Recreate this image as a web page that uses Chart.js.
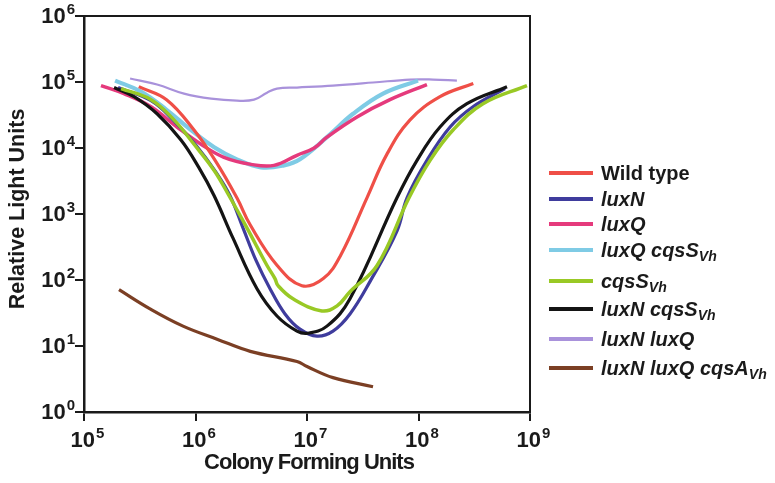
<!DOCTYPE html>
<html>
<head>
<meta charset="utf-8">
<script src="https://cdn.jsdelivr.net/npm/chart.js@4/dist/chart.umd.min.js"></script>
<style>
  html, body { margin: 0; padding: 0; background: #fff; }
  #wrap { position: relative; width: 775px; height: 483px; }
  #legend { position: absolute; left: 0; top: 0; font-family: "Liberation Sans", Arial, sans-serif; font-weight: bold; font-size: 20px; color: #1a1a1a; }
  .row { position: absolute; left: 549px; height: 24px; white-space: nowrap; }
  .row .swatch { position: absolute; left: 0; top: 10px; width: 44px; height: 3.5px; }
  .row .txt { position: absolute; left: 52px; top: 0; line-height: 24px; }
  .row i sub { font-size: 14px; vertical-align: -4px; line-height: 0; }
</style>
</head>
<body>
<div id="wrap">
  <canvas id="chart" width="775" height="483"></canvas>
  <div id="legend"></div>
</div>
<script>
// valores (UFC x unidades de luz)
var cfuWild = [3.1e5, 5.5e5, 9.7e5, 1.5e6, 2.35e6, 3.1e6, 5.4e6, 9.0e6, 1.4e7, 2.0e7, 3.45e7, 5.2e7, 8.4e7, 1.56e8, 3.1e8];
var rluWild = [8.5e4, 5.4e4, 1.87e4, 6.5e3, 1.76e3, 680, 166, 82, 105, 236, 1.76e3, 8.0e3, 2.67e4, 6.0e4, 9.5e4];

var cfuLuxN = [2.02e5, 3.99e5, 6.41e5, 1.01e6, 1.53e6, 2.04e6, 2.67e6, 3.49e6, 4.66e6, 6.35e6, 8.65e6, 1.23e7, 1.71e7, 2.43e7, 3.67e7, 6.41e7, 7.89e7, 1.19e8, 1.92e8, 3.08e8, 5.97e8];
var rluLuxN = [8.24e4, 5.21e4, 2.57e4, 1.1e4, 4.26e3, 1.89e3, 612, 198, 73.8, 30.6, 18.0, 14.1, 16.8, 30.6, 94.5, 551, 1.76e3, 6.5e3, 2.08e4, 4.22e4, 7.95e4];

var cfuLuxQ = [1.42e5, 2.28e5, 3.99e5, 6.82e5, 1.12e6, 1.8e6, 3.15e6, 5.06e6, 8.13e6, 1.16e7, 1.51e7, 2.81e7, 5.55e7, 1.19e8];
var rluLuxQ = [8.84e4, 6.67e4, 4.22e4, 2.08e4, 1.14e4, 7.23e3, 5.65e3, 5.45e3, 7.76e3, 1.0e4, 1.46e4, 2.96e4, 5.4e4, 9.16e4];

var cfuLuxQCqsS = [1.9e5, 3.24e5, 5.5e5, 9.12e5, 1.47e6, 2.35e6, 3.86e6, 6.22e6, 8.65e6, 1.51e7, 2.59e7, 4.81e7, 9.9e7];
var rluLuxQCqsS = [1.05e5, 7.16e4, 3.79e4, 1.87e4, 1.03e4, 6.74e3, 5.08e3, 5.45e3, 6.74e3, 1.46e4, 3.3e4, 6.67e4, 1.05e5];

var cfuCqsS = [2.15e5, 3.99e5, 6.41e5, 9.7e5, 1.47e6, 2.0e6, 2.9e6, 4.38e6, 5.16e6, 5.5e6, 7.49e6, 1.36e7, 1.86e7, 2.43e7, 4.25e7, 8.22e7, 1.27e8, 2.04e8, 3.79e8, 9.4e8];
var rluCqsS = [7.95e4, 5.4e4, 2.67e4, 1.14e4, 4.57e3, 1.89e3, 612, 166, 105, 82, 51.9, 34.0, 40.5, 66.4, 166, 1.76e3, 6.5e3, 1.87e4, 4.69e4, 8.84e4];

var cfuLuxNCqsS = [1.86e5, 2.81e5, 4.52e5, 7.41e5, 1.07e6, 1.47e6, 2.17e6, 3.56e6, 5.38e6, 8.13e6, 1.02e7, 1.51e7, 2.43e7, 6.41e7, 9.7e7, 1.56e8, 2.72e8, 6.22e8];
var rluLuxNCqsS = [8.24e4, 6.0e4, 3.3e4, 1.32e4, 5.08e3, 1.89e3, 430, 73.8, 28.5, 16.8, 15.6, 20.0, 51.9, 1.76e3, 6.5e3, 2.08e4, 4.69e4, 8.5e4];

var cfuLuxNLuxQ = [2.59e5, 4.52e5, 7.89e5, 1.38e6, 2.35e6, 3.35e6, 4.38e6, 5.38e6, 8.13e6, 1.71e7, 3.91e7, 8.4e7, 1.35e8, 2.21e8];
var rluLuxNLuxQ = [1.13e5, 9.16e4, 6.67e4, 5.59e4, 5.21e4, 5.4e4, 6.9e4, 7.95e4, 8.24e4, 8.84e4, 9.82e4, 1.09e5, 1.09e5, 1.05e5];

var cfuCqsA = [2.06e5, 3.91e5, 7.73e5, 1.56e6, 3.1e6, 8.13e6, 1.0e7, 1.71e7, 3.91e7];
var rluCqsA = [71.3, 36.5, 20.0, 12.7, 8.3, 5.83, 4.89, 3.32, 2.41];

var xTicks = [1e5, 1e6, 1e7, 1e8, 1e9];
var yTicks = [1, 10, 100, 1e3, 1e4, 1e5, 1e6];

var legendNames = ["Wild type", "<i>luxN</i>", "<i>luxQ</i>", "<i>luxQ cqsS<sub>Vh</sub></i>", "<i>cqsS<sub>Vh</sub></i>",
  "<i>luxN cqsS<sub>Vh</sub></i>", "<i>luxN luxQ</i>", "<i>luxN luxQ cqsA<sub>Vh</sub></i>"];
var legendTops = [161, 187, 212, 238, 269, 297, 327, 356];

var FONT = '"Liberation Sans", Arial, sans-serif';

function pts(xs, ys) {
  return xs.map(function (x, i) { return { x: x, y: ys[i] }; });
}

function serie(label, xs, ys, color, width) {
  return {
    label: label,
    data: pts(xs, ys),
    borderColor: color,
    borderWidth: width,
    showLine: true,
    pointRadius: 0,
    tension: 0.4,
    borderCapStyle: "butt",
    borderJoinStyle: "round",
    fill: false
  };
}

// ordem de desenho: o primeiro fica por cima
var series = [
  serie("Wild type", cfuWild, rluWild, "#ef4f47", 3.2),
  serie("cqsS Vh", cfuCqsS, rluCqsS, "#99c925", 3.5),
  serie("luxN cqsS Vh", cfuLuxNCqsS, rluLuxNCqsS, "#141414", 3.2),
  serie("luxN", cfuLuxN, rluLuxN, "#3f3c9d", 3.2),
  serie("luxQ", cfuLuxQ, rluLuxQ, "#e53a7c", 3.5),
  serie("luxQ cqsS Vh", cfuLuxQCqsS, rluLuxQCqsS, "#7fcbe5", 4.2),
  serie("luxN luxQ", cfuLuxNLuxQ, rluLuxNLuxQ, "#a992db", 2.2),
  serie("luxN luxQ cqsA Vh", cfuCqsA, rluCqsA, "#7b3f24", 3.2)
];
var legendColors = ["#ef4f47", "#3f3c9d", "#e53a7c", "#7fcbe5", "#99c925", "#141414", "#a992db", "#7b3f24"];

// legenda em HTML por causa dos subscritos
var leg = document.getElementById("legend");
legendNames.forEach(function (name, i) {
  var row = document.createElement("div");
  row.className = "row";
  row.style.top = legendTops[i] + "px";
  row.innerHTML = '<div class="swatch" style="background:' + legendColors[i] + '"></div><div class="txt">' + name + "</div>";
  leg.appendChild(row);
});

function drawPow(ctx, exp, x, y, mode) {
  ctx.font = "bold 22px " + FONT;
  var w10 = ctx.measureText("10").width;
  ctx.font = "bold 15px " + FONT;
  var we = ctx.measureText(String(exp)).width;
  var left = mode === "right" ? x - w10 - we - 1 : x - (w10 + we) / 2;
  ctx.fillStyle = "#1a1a1a";
  ctx.textAlign = "left";
  ctx.textBaseline = "middle";
  ctx.font = "bold 22px " + FONT;
  ctx.fillText("10", left, y);
  ctx.font = "bold 15px " + FONT;
  ctx.fillText(String(exp), left + w10 + 1, y - 7);
}

var axisLabels = {
  id: "axisLabels",
  afterDraw: function (chart) {
    var ctx = chart.ctx;
    var a = chart.chartArea;
    ctx.save();
    // moldura de cima e da direita
    ctx.strokeStyle = "#1a1a1a";
    ctx.lineWidth = 2;
    ctx.beginPath();
    ctx.moveTo(a.left, a.top);
    ctx.lineTo(a.right, a.top);
    ctx.lineTo(a.right, a.bottom);
    ctx.stroke();

    var xs = chart.scales.x, ys = chart.scales.y;
    xTicks.forEach(function (v) {
      drawPow(ctx, Math.round(Math.log10(v)), xs.getPixelForValue(v) + 3, a.bottom + 29, "center");
    });
    yTicks.forEach(function (v) {
      drawPow(ctx, Math.round(Math.log10(v)), a.left - 9, ys.getPixelForValue(v) + 1, "right");
    });

    ctx.fillStyle = "#1a1a1a";
    ctx.textAlign = "center";
    ctx.textBaseline = "alphabetic";
    ctx.font = "bold 22px " + FONT;
    ctx.letterSpacing = "-1px";
    ctx.fillText("Colony Forming Units", 309, 469);
    ctx.letterSpacing = "0px";
    ctx.font = "bold 21.5px " + FONT;
    ctx.translate(24, 209);
    ctx.rotate(-Math.PI / 2);
    ctx.fillText("Relative Light Units", 0, 0);
    ctx.restore();
  }
};

var ctx = document.getElementById("chart").getContext("2d");
var chart = new Chart(ctx, {
  type: "scatter",
  data: { datasets: series },
  options: {
    responsive: false,
    animation: false,
    layout: { padding: { left: 0, right: 245, top: 16, bottom: 0 } },
    plugins: { legend: { display: false }, tooltip: { enabled: false } },
    scales: {
      x: {
        type: "logarithmic",
        min: 1e5,
        max: 1e9,
        afterBuildTicks: function (s) { s.ticks = xTicks.map(function (v) { return { value: v }; }); },
        afterFit: function (s) { s.height = 483 - 412; },
        ticks: { display: false },
        grid: { display: true, drawOnChartArea: false, drawTicks: true, tickLength: 9, color: "#1a1a1a", lineWidth: 2 },
        border: { display: true, color: "#1a1a1a", width: 2.5 }
      },
      y: {
        type: "logarithmic",
        min: 1,
        max: 1e6,
        afterBuildTicks: function (s) { s.ticks = yTicks.map(function (v) { return { value: v }; }); },
        afterFit: function (s) { s.width = 84; },
        ticks: { display: false },
        grid: { display: true, drawOnChartArea: false, drawTicks: true, tickLength: 9, color: "#1a1a1a", lineWidth: 2 },
        border: { display: true, color: "#1a1a1a", width: 2.5 }
      }
    }
  },
  plugins: [axisLabels]
});
</script>
</body>
</html>
